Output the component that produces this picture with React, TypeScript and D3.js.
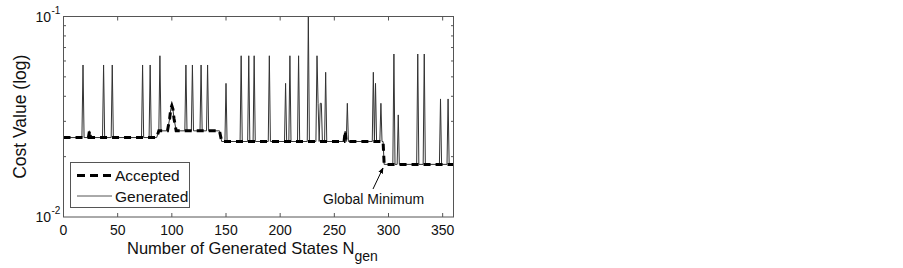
import React from "react";
import * as d3 from "d3";

// Accepted cost (current state) as breakpoints [state, cost]
const acceptedStates = [0, 23, 24, 25, 86, 88, 96, 98, 99, 100, 101, 102, 104, 144, 146, 259, 260, 261, 295, 296, 360];
const acceptedCost = [0.0249, 0.0249, 0.0269, 0.0249, 0.0249, 0.0269, 0.0269, 0.031, 0.0345, 0.0359, 0.0345, 0.031, 0.0269, 0.0269, 0.0238, 0.0238, 0.0268, 0.0238, 0.0238, 0.0183, 0.0183];

// Generated states that were rejected (spikes) [state, cost]
const spikeStates = [18, 37, 45, 73, 80, 89, 113, 119, 127, 133, 150, 164, 171, 176, 190, 205, 209, 217, 226, 234, 235, 237, 238, 242, 262, 286, 288, 293, 305, 309, 327, 333, 348, 355];
const spikeCost = [0.0573, 0.0573, 0.0573, 0.0573, 0.0573, 0.0637, 0.0573, 0.0573, 0.0573, 0.0573, 0.0464, 0.0637, 0.0637, 0.0637, 0.0637, 0.0464, 0.0637, 0.0637, 0.1, 0.0637, 0.0369, 0.0369, 0.0369, 0.0527, 0.0369, 0.0527, 0.0464, 0.0369, 0.065, 0.0323, 0.065, 0.065, 0.0388, 0.0388];

const xTicks = [0, 50, 100, 150, 200, 250, 300, 350];
const yMinorTicks = [0.02, 0.03, 0.04, 0.05, 0.06, 0.07, 0.08, 0.09];
const yMajorTicks = [0.01, 0.1];
const yMajorExp = ["-2", "-1"];

const FONT = "'Liberation Sans', Arial, Helvetica, sans-serif";

export default function App() {
  const L = 63.5, R = 453.5, T = 16.5, B = 217;
  const x = d3.scaleLinear().domain([0, 360]).range([L, R]);
  const y = d3.scaleLog().domain([0.01, 0.1]).range([B, T]);

  const acc = acceptedStates.map((s, i) => [s, acceptedCost[i]] as [number, number]);
  const accAt = (s: number) => {
    for (let i = 0; i < acc.length - 1; i++) {
      if (s >= acc[i][0] && s <= acc[i + 1][0]) {
        const t = (s - acc[i][0]) / (acc[i + 1][0] - acc[i][0] || 1);
        return acc[i][1] + t * (acc[i + 1][1] - acc[i][1]);
      }
    }
    return acc[acc.length - 1][1];
  };

  // generated trace: accepted baseline with spikes for rejected states
  const genPts: [number, number][] = acc.map((p) => [p[0], p[1]]);
  spikeStates.forEach((s, i) => {
    genPts.push([s - 1, accAt(s - 1)]);
    genPts.push([s, spikeCost[i]]);
    genPts.push([s + 1, accAt(s + 1)]);
  });
  const spikeSet = new Set(spikeStates);
  const gen = genPts
    .filter((p) => !(spikeSet.has(p[0]) && !spikeStates.some((s, i) => s === p[0] && spikeCost[i] === p[1])))
    .sort((a, b) => a[0] - b[0]);

  const line = d3
    .line<[number, number]>()
    .x((d) => x(d[0]))
    .y((d) => y(d[1]));

  const axisColor = "#555";

  return (
    <div>
      <style>{`body{margin:0}`}</style>
      <svg width={903} height={268} style={{ display: "block", background: "#fff" }} fontFamily={FONT}>
        <rect x={0} y={0} width={903} height={268} fill="#fff" />
        <path d={line(gen) || ""} fill="none" stroke="#333" strokeWidth={1} />
        <path
          d={line(acc) || ""}
          fill="none"
          stroke="#000"
          strokeWidth={3}
          strokeDasharray="7,5"
        />
        {/* axes box */}
        <rect x={L} y={T} width={R - L} height={B - T} fill="none" stroke={axisColor} strokeWidth={1} />
        {xTicks.map((t) => (
          <g key={"xt" + t}>
            <line x1={x(t)} x2={x(t)} y1={B} y2={B - 4} stroke={axisColor} />
            <line x1={x(t)} x2={x(t)} y1={T} y2={T + 4} stroke={axisColor} />
            <text x={x(t)} y={234.5} fontSize={14} textAnchor="middle" fill="#111">
              {t}
            </text>
          </g>
        ))}
        {yMinorTicks.map((t) => (
          <g key={"ym" + t}>
            <line x1={L} x2={L + 2.5} y1={y(t)} y2={y(t)} stroke={axisColor} />
            <line x1={R} x2={R - 2.5} y1={y(t)} y2={y(t)} stroke={axisColor} />
          </g>
        ))}
        {yMajorTicks.map((t) => (
          <text key={"yl" + t} x={51} y={y(t) + 5} fontSize={14} textAnchor="end" fill="#111">
            10
          </text>
        ))}
        {yMajorTicks.map((t, i) => (
          <text key={"ye" + t} x={51.5} y={y(t) - 3} fontSize={10} textAnchor="start" fill="#111">
            {yMajorExp[i]}
          </text>
        ))}
        {/* axis labels */}
        <text x={127} y={254} fontSize={16.5} fill="#111">
          Number of Generated States N
          <tspan fontSize={14} dy={7}>
            gen
          </tspan>
        </text>
        <text
          transform={`translate(25.5,${(T + B) / 2}) rotate(-90)`}
          fontSize={17.5}
          textAnchor="middle"
          fill="#111"
        >
          Cost Value (log)
        </text>
        {/* legend */}
        <rect x={70.5} y={162.5} width={119} height={45} fill="#fff" stroke={axisColor} strokeWidth={1} />
        <line x1={77} x2={112} y1={175.5} y2={175.5} stroke="#000" strokeWidth={3} strokeDasharray="8,5" />
        <text x={115} y={181} fontSize={15.5} fill="#111">
          Accepted
        </text>
        <line x1={77} x2={112} y1={196} y2={196} stroke="#555" strokeWidth={1} />
        <text x={115} y={201.5} fontSize={15.5} fill="#111">
          Generated
        </text>
        {/* annotation */}
        <defs>
          <marker id="arr" viewBox="0 0 10 10" refX={9} refY={5} markerWidth={6} markerHeight={6} orient="auto">
            <path d="M0,1 L10,5 L0,9 z" fill="#000" />
          </marker>
        </defs>
        <line x1={373} y1={189} x2={383} y2={168} stroke="#000" strokeWidth={1} markerEnd="url(#arr)" />
        <text x={323} y={204} fontSize={14} fill="#111">
          Global Minimum
        </text>
      </svg>
    </div>
  );
}
